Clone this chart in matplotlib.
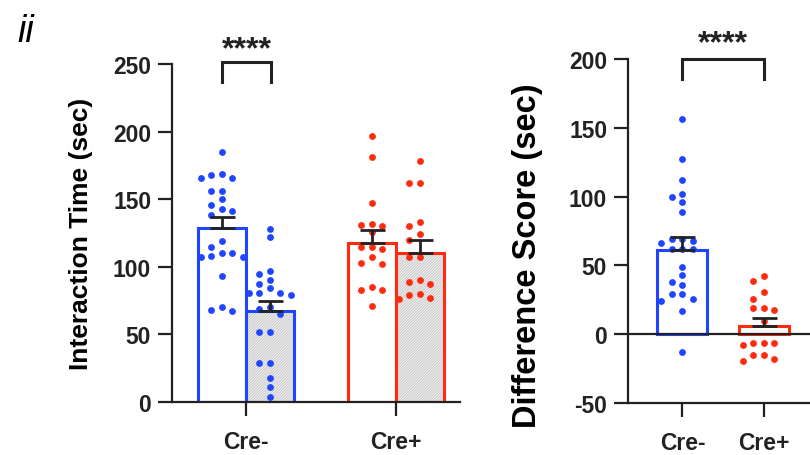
import matplotlib

matplotlib.use("Agg")
import matplotlib.pyplot as plt
import numpy as np

plt.rcParams["font.family"] = ["Liberation Sans", "DejaVu Sans"]
plt.rcParams["font.weight"] = "bold"
plt.rcParams["axes.unicode_minus"] = False
plt.rcParams["hatch.linewidth"] = 0.7

BLUE = "#1f45ff"
RED = "#ff2b0e"
INK = "#222222"

# interaction time (sec), left panel
groups = ["Cre-", "Cre+"]
creneg_open = [185, 169, 168, 166, 166, 156, 156, 150, 146, 143, 141, 138,
               119, 115, 110, 107, 107, 110, 108, 93, 70, 67, 68]
creneg_hatch = [128, 122, 97, 95, 90, 87, 84, 81, 81, 81, 79, 70, 69, 65,
                52, 52, 29, 29, 18, 11, 4]
crepos_open = [197, 181, 147, 131, 130, 132, 126, 115, 113, 115, 107, 102,
               103, 85, 83, 83, 71]
crepos_hatch = [178, 162, 162, 133, 130, 124, 120, 107, 107, 90, 87, 89,
                79, 80, 76, 77]
inter_means = [128.5, 67, 117.5, 110.5]
inter_sem = [8.5, 8, 9.5, 9.5]

# difference score (sec), right panel
diff_creneg = [156, 127, 112, 102, 100, 96, 89, 69, 68, 69, 66, 62, 62, 62,
               49, 43, 38, 36, 29, 29, 26, 24, 17, -13]
diff_crepos = [42, 39, 31, 26, 18, 19, 19, 10, -6, -6, -6, -8, -15, -18,
               -15, -19]
diff_means = [61, 6]
diff_sem = [10, 6]


def swarm_x(ax, x0, vals, diam=7.5, step=10.5):
    # simple beeswarm in pixel space so dots don't pile up
    trans = ax.transData
    order = np.argsort(vals)[::-1]
    placed = []
    out = np.zeros(len(vals))
    for i in order:
        px, py = trans.transform((x0, vals[i]))
        for k in [0, -1, 1, -2, 2, -1.5, 1.5, -0.5, 0.5, -2.5, 2.5]:
            cx = px + k * step
            if all((cx - qx) ** 2 + (py - qy) ** 2 >= diam ** 2 for qx, qy in placed):
                break
        placed.append((cx, py))
        out[i] = trans.inverted().transform((cx, py))[0]
    return out


def style_axis(ax):
    for side in ("top", "right"):
        ax.spines[side].set_visible(False)
    for side in ("left", "bottom"):
        ax.spines[side].set_linewidth(1.6)
        ax.spines[side].set_color(INK)
    ax.tick_params(axis="both", length=10, width=1.6, color=INK,
                   labelsize=16.5, pad=5, labelcolor=INK)
    ax.tick_params(axis="x", pad=10)


def draw_bar(ax, x, mean, sem, color, hatched, width):
    if hatched:
        ax.bar(x, mean, width, color="#f2f2f2", edgecolor="#c8c8c8",
               hatch="/" * 12, linewidth=0, zorder=1)
    else:
        ax.bar(x, mean, width, color="white", linewidth=0, zorder=1)
    ax.bar(x, mean, width, fill=False, edgecolor=color, linewidth=2.2, zorder=2)
    ax.errorbar(x, mean, yerr=[[0], [sem]], fmt="none", ecolor=INK,
                elinewidth=2, capsize=9, capthick=2, zorder=4)


def bracket(ax, x0, x1, y_top, y_leg, y_star):
    ax.plot([x0, x0, x1, x1], [y_leg, y_top, y_top, y_leg], color=INK,
            lw=2.2, clip_on=False, solid_joinstyle="miter")
    ax.text((x0 + x1) / 2, y_star, "****", ha="center", va="center",
            fontsize=23, color=INK, clip_on=False)


fig = plt.figure(figsize=(8.1, 4.56), dpi=100)
fig.text(0.022, 0.93, "ii", fontsize=27, fontstyle="italic",
         fontweight="normal", ha="left", va="center")

# ---- left panel
ax1 = fig.add_axes([0.2123, 0.1162, 0.3556, 0.7412])
style_axis(ax1)
ax1.set_xlim(0, 5.76)
ax1.set_ylim(0, 250)
ax1.set_yticks([0, 50, 100, 150, 200, 250])
ax1.set_xticks([1.48, 4.48])
ax1.set_xticklabels(groups)
ax1.set_ylabel("Interaction Time (sec)", fontsize=19, fontweight="bold")
ax1.yaxis.set_label_coords(-0.275, 0.5)

left_sets = [creneg_open, creneg_hatch, crepos_open, crepos_hatch]
left_pos = [1.0, 1.96, 4.0, 4.96]
left_cols = [BLUE, BLUE, RED, RED]
for i, vals in enumerate(left_sets):
    draw_bar(ax1, left_pos[i], inter_means[i], inter_sem[i], left_cols[i],
             hatched=(i % 2 == 1), width=0.96)
    xs = swarm_x(ax1, left_pos[i], vals)
    ax1.scatter(xs, vals, s=24, color=left_cols[i], linewidths=0, zorder=3,
                clip_on=False)

bracket(ax1, 1.0, 1.98, 251.5, 236.5, 261)

# ---- right panel
ax2 = fig.add_axes([0.7753, 0.1134, 0.2247, 0.7557])
style_axis(ax2)
ax2.set_xlim(0, 3.64)
ax2.set_ylim(-50, 200)
ax2.set_yticks([-50, 0, 50, 100, 150, 200])
ax2.set_xticks([1.09, 2.72])
ax2.set_xticklabels(groups)
ax2.set_ylabel("Difference Score (sec)", fontsize=23.5, fontweight="bold")
ax2.yaxis.set_label_coords(-0.465, 0.43)
ax2.axhline(0, color=INK, lw=1.6, zorder=2.5)

right_sets = [diff_creneg, diff_crepos]
right_pos = [1.09, 2.72]
right_cols = [BLUE, RED]
for i, vals in enumerate(right_sets):
    draw_bar(ax2, right_pos[i], diff_means[i], diff_sem[i], right_cols[i],
             hatched=False, width=1.0)
    xs = swarm_x(ax2, right_pos[i], vals)
    ax2.scatter(xs, vals, s=24, color=right_cols[i], linewidths=0, zorder=3,
                clip_on=False)

bracket(ax2, 1.09, 2.72, 200, 185, 211)

fig.savefig("out.png", dpi=100)
